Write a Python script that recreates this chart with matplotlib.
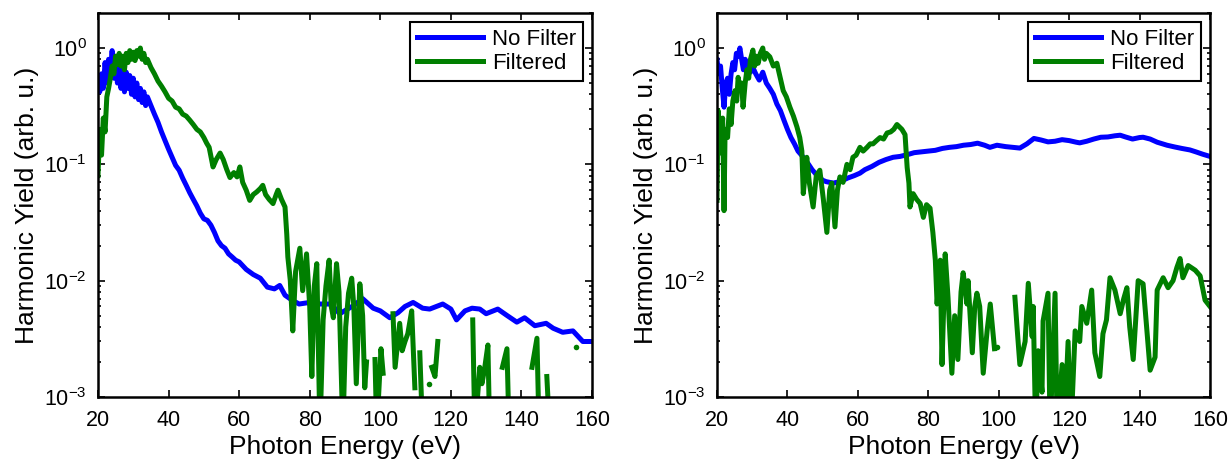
import numpy as np
import matplotlib
matplotlib.use("Agg")
import matplotlib.pyplot as plt
from matplotlib.ticker import LogLocator, NullFormatter, FixedLocator

nan = np.nan
LOW = 5e-4  # values that drop below the visible axis range

# ---------------- Left panel data ----------------
left_nf_E = [20, 20.5, 21, 21.5, 22, 22.5, 23, 23.5, 24, 24.5, 25, 25.5, 26, 26.5, 27, 27.5, 28, 28.5,
             29, 29.5, 30, 30.5, 31, 31.5, 32, 32.5, 33, 33.5, 34, 35, 36, 37, 38, 39, 40, 41, 42, 43,
             44, 45, 46, 47, 48, 49, 50, 51, 52, 53, 54, 55, 56, 57, 58, 59, 60, 62, 64, 66, 68, 70,
             71.5, 73, 75, 77, 80, 83, 86, 88.5, 92, 95, 98, 100, 102.7, 105, 107, 109.3, 112, 114,
             117.7, 120, 121.6, 124, 126, 128.2, 130, 133.3, 136, 138.7, 140.9, 143.8, 147, 149,
             151.7, 154.6, 157.4, 160]
left_nf_Y = [0.56, 0.42, 0.6, 0.45, 0.75, 0.5, 0.8, 0.6, 0.95, 0.55, 0.85, 0.5, 0.75, 0.45, 0.7, 0.42,
             0.62, 0.45, 0.58, 0.4, 0.55, 0.38, 0.5, 0.36, 0.45, 0.34, 0.42, 0.32, 0.38, 0.32, 0.27,
             0.23, 0.19, 0.16, 0.135, 0.115, 0.098, 0.089, 0.076, 0.066, 0.057, 0.05, 0.044, 0.038,
             0.034, 0.033, 0.03, 0.026, 0.022, 0.02, 0.019, 0.017, 0.016, 0.015, 0.0145, 0.0125,
             0.0113, 0.0105, 0.0088, 0.0085, 0.0091, 0.0075, 0.0068, 0.0063, 0.0065, 0.0063, 0.0063,
             0.0052, 0.006, 0.007, 0.0058, 0.0055, 0.0048, 0.0053, 0.006, 0.0065, 0.0058, 0.0057,
             0.0063, 0.0057, 0.0046, 0.0055, 0.0058, 0.0057, 0.0052, 0.0057, 0.005, 0.0044, 0.0048,
             0.0041, 0.0043, 0.0039, 0.0036, 0.0037, 0.003, 0.003]

left_f_E = [20, 20.5, 21, 21.5, 22, 22.5, 23, 23.5, 24, 24.5, 25, 25.5, 26, 26.5, 27, 27.5, 28, 28.5,
            29, 29.5, 30, 30.5, 31, 31.5, 32, 32.5, 33, 33.5, 34, 35, 36, 37, 38, 39, 40, 41, 42, 43,
            44, 45, 46, 47, 48, 49, 50, 50.8, 51.5, 52.6, 53.5, 54.6, 55.5, 56.5, 57.4, 58.5, 59.4,
            60.2, 61, 62, 63, 64, 65, 66, 66.7, 67.5, 68.5, 69.6, 70.5, 71, 72, 73, 73.5, 73.8, 74.5,
            75.2, 76, 77.2, 78, 79.1, 80, 80.6, 81.3, 82, 82.9, 83.8, 84.6, 85.5, 86.1, 86.7, 87.6,
            88.3, 89.4, 90.2, 91, 91.9, 92.5, 93.2, 94.2, 95, 95.6, 96.1, 97, 98.5, 99, 100.2, 100.8,
            101.5, 103.6, 104.2, 105.5, 106.2, 107, 107.8, 108.9, 109.8, 110.5, 111.2, 112, 112.8,
            113.8, 114.2, 114.6, 115.5, 116.3, 117, 126.2, 126.8, 128.2, 128.8, 129.5, 130.5, 131,
            132, 134.6, 135.9, 136.5, 137, 143, 144.4, 145, 146, 147.2, 148, 149, 155.4, 156]
left_f_Y = [0.08, 0.2, 0.12, 0.25, 0.19, 0.38, 0.45, 0.55, 0.7, 0.6, 0.85, 0.72, 0.9, 0.7, 0.85, 0.65,
            0.9, 0.75, 0.95, 0.8, 0.92, 0.78, 0.95, 0.85, 1.0, 0.8, 0.9, 0.75, 0.8, 0.68, 0.6, 0.52,
            0.47, 0.42, 0.37, 0.35, 0.31, 0.3, 0.27, 0.26, 0.24, 0.22, 0.2, 0.19, 0.17, 0.152, 0.14,
            0.095, 0.11, 0.125, 0.11, 0.09, 0.077, 0.085, 0.078, 0.095, 0.07, 0.06, 0.049, 0.055,
            0.058, 0.062, 0.066, 0.055, 0.05, 0.046, 0.055, 0.06, 0.05, 0.043, 0.025, 0.016, 0.01,
            0.0037, 0.012, 0.019, 0.0082, 0.017, 0.006, 0.0015, 0.009, 0.014, LOW, 0.0046, 0.009,
            0.015, 0.006, 0.0048, 0.014, 0.008, LOW, 0.004, 0.0078, 0.0105, 0.006, 0.0013, 0.0094,
            0.005, 0.0012, 0.002, nan, 0.0021, LOW, 0.0026, 0.0016, nan, 0.0052, 0.0018, 0.0043,
            0.0025, 0.003, 0.0035, 0.0055, 0.0012, nan, 0.0024, LOW, nan, 0.0013, nan, 0.0018,
            0.0015, 0.003, nan, 0.0046, LOW, 0.0018, 0.0013, 0.0017, 0.0028, LOW, nan, 0.0018,
            0.0026, LOW, nan, 0.0018, 0.0032, LOW, nan, 0.0015, LOW, nan, 0.0027, nan]

# ---------------- Right panel data ----------------
right_nf_E = [20, 20.5, 21, 21.5, 22, 22.5, 23, 23.5, 24, 24.5, 25, 25.5, 26, 26.5, 27, 27.5, 28, 28.5,
              29, 29.5, 30, 31, 32, 33, 34, 35, 36, 37, 38, 39, 40, 41, 42, 43, 44, 45, 46, 47, 48,
              49, 50, 51, 52, 53, 54, 55, 57, 59, 60.6, 62, 64, 66, 68, 70, 72, 74, 76, 78, 80, 82,
              84, 86, 88, 90, 92, 94, 96, 97.5, 99.5, 102, 104, 106, 108, 110, 112, 114, 116, 118,
              120, 122, 123, 125, 127, 129, 131, 133, 134.5, 136, 138, 140, 141, 143, 145, 147.8,
              150, 152, 154.3, 156, 158, 160]
right_nf_Y = [0.79, 0.6, 0.7, 0.45, 0.31, 0.5, 0.55, 0.4, 0.6, 0.75, 0.65, 0.9, 0.85, 1.0, 0.8, 0.65,
              0.8, 0.7, 0.75, 0.62, 0.7, 0.6, 0.53, 0.62, 0.5, 0.45, 0.4, 0.33, 0.29, 0.24, 0.2, 0.17,
              0.15, 0.13, 0.12, 0.11, 0.1, 0.09, 0.083, 0.078, 0.073, 0.071, 0.07, 0.069, 0.07, 0.071,
              0.076, 0.08, 0.084, 0.09, 0.096, 0.104, 0.11, 0.115, 0.117, 0.121, 0.126, 0.128, 0.13,
              0.132, 0.137, 0.14, 0.142, 0.146, 0.148, 0.152, 0.146, 0.14, 0.146, 0.142, 0.14, 0.138,
              0.15, 0.167, 0.162, 0.156, 0.158, 0.163, 0.16, 0.155, 0.153, 0.158, 0.165, 0.171,
              0.172, 0.176, 0.178, 0.172, 0.165, 0.17, 0.171, 0.165, 0.155, 0.146, 0.141, 0.137,
              0.133, 0.128, 0.122, 0.117]

right_f_E = [20, 20.3, 20.8, 21.2, 21.6, 22, 22.3, 23, 23.5, 24, 24.5, 25.1, 25.6, 26, 26.5, 27, 27.4,
             28, 28.5, 29, 29.5, 30.2, 30.7, 31.2, 31.7, 32.3, 33, 33.5, 34, 35, 36, 37, 38, 38.8,
             39.7, 40.7, 41.7, 42.7, 43.5, 44.1, 44.5, 45.5, 46.2, 47.3, 48.2, 49.2, 50.2, 51.2, 52,
             52.6, 53.5, 54.2, 54.9, 55.8, 56.9, 57.8, 58.6, 59.5, 60.6, 61.5, 62.6, 63.5, 64.3, 65.3,
             66.3, 67.3, 68.3, 69.3, 70.2, 71.1, 71.8, 72.5, 73.4, 74, 74.5, 74.8, 75.7, 76.7, 77.7,
             78.6, 79.5, 80.5, 81.3, 82, 82.5, 83.4, 83.9, 84.8, 85.6, 86.7, 87.5, 88.4, 89.3, 89.9,
             91, 91.3, 92.5, 93.2, 93.8, 94.6, 95.6, 96.7, 97.6, 98.8, 99.2, 99.6, 100, 104.6, 105.2,
             106, 107.5, 108.4, 109.5, 109.8, 110.5, 111.2, 112.3, 112.6, 114, 114.6, 116, 116.6, 118,
             118.6, 119.7, 120.5, 121.7, 123, 123.6, 125, 126.4, 127.3, 128.7, 129.6, 130.6, 131.6,
             133, 134.5, 135.5, 136.4, 137.2, 138.2, 139.6, 141, 142, 143, 144.4, 145, 146.7, 148.1,
             149.5, 150.6, 151.5, 152.3, 153.8, 155.8, 157.2, 158.6, 160]
right_f_Y = [0.049, 0.29, 0.2, 0.125, 0.25, 0.04, 0.2, 0.17, 0.3, 0.22, 0.35, 0.43, 0.35, 0.56, 0.45,
             0.5, 0.31, 0.5, 0.65, 0.55, 0.8, 0.96, 0.7, 0.85, 0.74, 0.9, 1.0, 0.8, 0.9, 0.84, 0.7,
             0.74, 0.55, 0.43, 0.38, 0.31, 0.26, 0.21, 0.17, 0.13, 0.056, 0.115, 0.07, 0.043, 0.08,
             0.089, 0.05, 0.026, 0.06, 0.069, 0.029, 0.06, 0.078, 0.07, 0.1, 0.09, 0.115, 0.12, 0.14,
             0.13, 0.14, 0.15, 0.15, 0.16, 0.17, 0.165, 0.186, 0.19, 0.2, 0.22, 0.21, 0.2, 0.18,
             0.094, 0.069, 0.043, 0.056, 0.05, 0.046, 0.035, 0.045, 0.042, 0.026, 0.015, 0.0063,
             0.015, 0.0019, 0.017, 0.0072, 0.0016, 0.005, 0.0021, 0.008, 0.0117, 0.0063, 0.01, 0.0024,
             0.006, 0.0078, 0.006, 0.0016, 0.0037, 0.0063, 0.0026, nan, 0.0027, nan, 0.0072, 0.004,
             0.0019, 0.003, 0.0095, 0.0033, 0.006, LOW, 0.0025, 0.0011, 0.0045, 0.0078, LOW, 0.0078,
             LOW, 0.0019, LOW, 0.003, LOW, 0.0037, 0.003, 0.006, 0.0043, 0.0083, 0.0024, 0.0015,
             0.0035, 0.0046, 0.0106, 0.0083, 0.0052, 0.007, 0.0087, 0.004, 0.0021, 0.01, 0.0094,
             0.004, 0.0017, 0.0022, 0.0083, 0.0106, 0.0087, 0.01, 0.013, 0.0155, 0.0106, 0.0135,
             0.0123, 0.011, 0.0068, 0.006]

x_ticks = [20, 40, 60, 80, 100, 120, 140, 160]
labels = ["No Filter", "Filtered"]
colors = ["#0000ff", "#007f00"]

plt.rcParams['font.family'] = ['Liberation Sans', 'DejaVu Sans']
plt.rcParams['mathtext.fontset'] = 'custom'
plt.rcParams['mathtext.rm'] = 'Liberation Sans'
plt.rcParams['mathtext.it'] = 'Liberation Sans:italic'

fig = plt.figure(figsize=(12.31, 4.61), dpi=100)
W, H = 1231, 461
ax1 = fig.add_axes([98 / W, (H - 397) / H, 494 / W, 384 / H])
ax2 = fig.add_axes([717 / W, (H - 397) / H, 493 / W, 384 / H])


def draw(ax, E1, Y1, E2, Y2):
    lw = 3.6
    ax.plot(E1, Y1, color=colors[0], lw=lw, label=labels[0], solid_joinstyle='round')
    ax.plot(E2, Y2, color=colors[1], lw=lw, label=labels[1], solid_joinstyle='round')
    # isolated points (surrounded by gaps) drawn as dots
    Y2a = np.array(Y2, dtype=float)
    E2a = np.array(E2, dtype=float)
    iso = []
    for i in range(len(Y2a)):
        if np.isnan(Y2a[i]):
            continue
        prev_nan = i == 0 or np.isnan(Y2a[i - 1])
        next_nan = i == len(Y2a) - 1 or np.isnan(Y2a[i + 1])
        if prev_nan and next_nan:
            iso.append(i)
    if iso:
        ax.plot(E2a[iso], Y2a[iso], 'o', color=colors[1], ms=4, mec='none')
    ax.set_yscale('log')
    ax.set_xlim(20, 160)
    ax.set_ylim(1e-3, 2)
    ax.xaxis.set_major_locator(FixedLocator(x_ticks))
    ax.yaxis.set_major_locator(LogLocator(base=10, numticks=10))
    ax.yaxis.set_minor_locator(LogLocator(base=10, subs=np.arange(2, 10), numticks=20))
    ax.yaxis.set_minor_formatter(NullFormatter())
    ax.tick_params(which='both', direction='in', top=True, right=True, width=1.2)
    ax.tick_params(which='major', length=5, labelsize=15.5)
    ax.tick_params(axis='x', which='major', pad=9.5)
    ax.tick_params(axis='y', which='major', pad=8)
    ax.tick_params(which='minor', length=2.5)
    for s in ax.spines.values():
        s.set_linewidth(1.8)
    ax.set_xlabel("Photon Energy (eV)", fontsize=19, labelpad=2.5)
    ax.set_ylabel("Harmonic Yield (arb. u.)", fontsize=19, labelpad=4)
    leg = ax.legend(loc='upper right', fontsize=16, handlelength=3.0, fancybox=False,
                    framealpha=1, edgecolor='black', borderaxespad=0.4, handletextpad=0.4,
                    labelspacing=0.15, borderpad=0.3)
    leg.get_frame().set_linewidth(1.5)
    for l in leg.get_lines():
        l.set_linewidth(3.6)


draw(ax1, left_nf_E, left_nf_Y, left_f_E, left_f_Y)
draw(ax2, right_nf_E, right_nf_Y, right_f_E, right_f_Y)

fig.savefig("out.png", dpi=100)
